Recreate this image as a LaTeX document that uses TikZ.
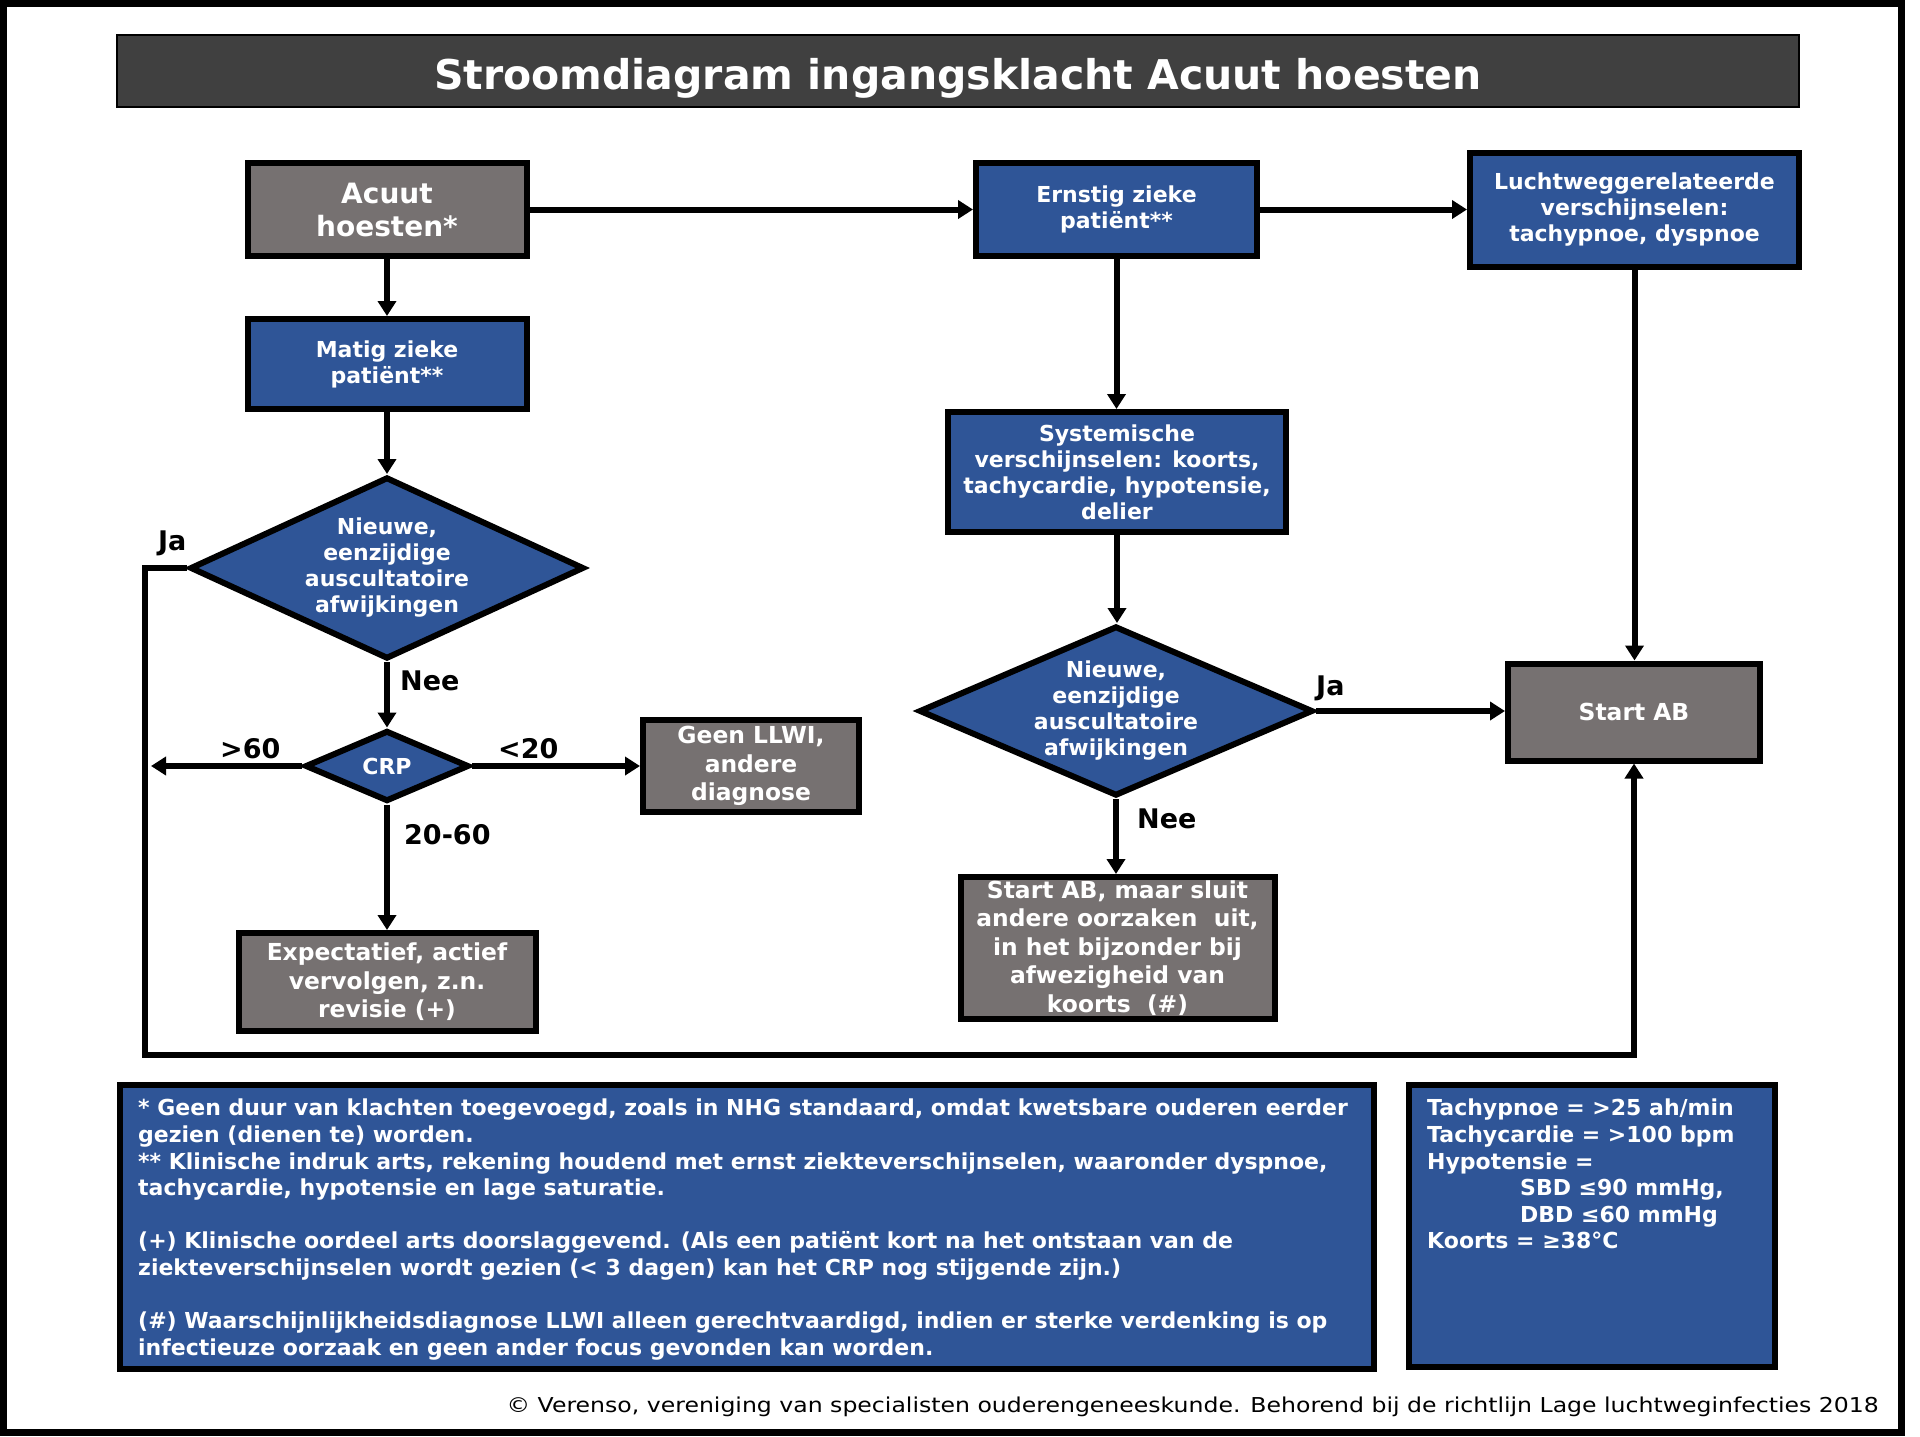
\documentclass[tikz,border=0pt]{standalone}
\usepackage{fontspec}
\setmainfont{DejaVu Sans}
\newfontfamily\creditfont[FakeStretch=1.15]{DejaVu Sans}
\usetikzlibrary{shapes.geometric,arrows.meta}
\definecolor{vblue}{HTML}{2F5597}
\definecolor{vgray}{HTML}{767171}
\definecolor{vdark}{HTML}{404040}
\begin{document}
\begin{tikzpicture}[x=1pt, y=-1pt,
    box/.style={draw=black, line width=6pt, text=white, align=center, inner sep=0pt},
    bluebox/.style={box, fill=vblue, font=\fontsize{22pt}{26pt}\selectfont\bfseries},
    graybox/.style={box, fill=vgray, font=\fontsize{23.4pt}{28.5pt}\selectfont\bfseries},
    decision/.style={diamond, draw=black, line width=6pt, fill=vblue, text=white, align=center,
        inner sep=-12pt, font=\fontsize{22pt}{26pt}\selectfont\bfseries},
    notebox/.style={draw=black, line width=6.5pt, fill=vblue},
    notetext/.style={text=white, align=left, inner sep=0pt, font=\fontsize{22pt}{26.6pt}\selectfont\bfseries},
    arrow/.style={line width=6pt, -{Triangle[length=15pt,width=18pt]}},
    lab/.style={inner sep=0pt, font=\fontsize{27pt}{32pt}\selectfont\bfseries}
  ]
    \useasboundingbox (0,0) rectangle (1920,1436);

    % Frame and title
    \draw[line width=7pt] (3.5,3.5) rectangle (1901.5,1432.5);
    \node[fill=vdark, draw=black, line width=1.5pt, minimum width=1682pt, minimum height=72pt,
        text height=36pt, text depth=0pt,
        text=white, font=\fontsize{41pt}{48pt}\selectfont\bfseries] (title) at (958,71)
        {Stroomdiagram ingangsklacht Acuut hoesten};

    % Left branch
    \node[box, fill=vgray, font=\fontsize{28pt}{33pt}\selectfont\bfseries,
        minimum width=279pt, minimum height=93pt] (acuut) at (387,209.5) {Acuut\\hoesten*};
    \node[bluebox, minimum width=279pt, minimum height=90pt] (matig) at (387,364) {Matig zieke\\patiënt**};
    \node[decision, aspect=2.16, minimum width=394pt, minimum height=182pt] (dia1) at (387,568)
        {Nieuwe,\\eenzijdige\\auscultatoire\\afwijkingen};
    \node[decision, aspect=2.3, minimum width=164pt, minimum height=71pt] (crp) at (387,766) {CRP};
    \node[graybox, minimum width=216pt, minimum height=92pt] (geen) at (751,766) {Geen LLWI,\\andere\\diagnose};
    \node[graybox, minimum width=297pt, minimum height=98pt] (expect) at (387,982)
        {Expectatief, actief\\vervolgen, z.n.\\revisie (+)};

    % Right branch
    \node[bluebox, minimum width=281pt, minimum height=93pt] (ernstig) at (1116.5,209.5) {Ernstig zieke\\patiënt**};
    \node[bluebox, minimum width=329pt, minimum height=114pt] (luchtweg) at (1634.5,210)
        {Luchtweggerelateerde\\verschijnselen:\\tachypnoe, dyspnoe};
    \node[bluebox, minimum width=338pt, minimum height=120pt] (sys) at (1117,472)
        {Systemische\\verschijnselen: koorts,\\tachycardie, hypotensie,\\delier};
    \node[decision, aspect=2.3, minimum width=394pt, minimum height=170pt] (dia2) at (1116,711)
        {Nieuwe,\\eenzijdige\\auscultatoire\\afwijkingen};
    \node[graybox, minimum width=314pt, minimum height=142pt] (maar) at (1117.5,948)
        {Start AB, maar sluit\\andere oorzaken~ uit,\\in het bijzonder bij\\afwezigheid van\\koorts~ (\#)};
    \node[graybox, minimum width=252pt, minimum height=97pt] (startab) at (1634,712) {Start AB};

    % Arrows
    \coordinate (gtend) at (151,766);
    \coordinate (loopcorner) at (145,1055);
    \draw[arrow] (acuut.east) -- (ernstig.west);
    \draw[arrow] (ernstig.east) -- (ernstig.east -| luchtweg.west);
    \draw[arrow] (acuut.south) -- (matig.north);
    \draw[arrow] (matig.south) -- (matig.south |- dia1.north);
    \draw[arrow] (dia1.south) -- (crp.north);
    \draw[arrow] (crp.west) -- (gtend);
    \draw[arrow] (crp.east) -- (crp.east -| geen.west);
    \draw[arrow] (crp.south) -- (crp.south |- expect.north);
    \draw[arrow] (dia1.west) -| (loopcorner) -| (startab.south);
    \draw[arrow] (ernstig.south) -- (ernstig.south |- sys.north);
    \draw[arrow] (sys.south) -- (sys.south |- dia2.north);
    \draw[arrow] (dia2.east) -- (dia2.east -| startab.west);
    \draw[arrow] (dia2.south) -- (dia2.south |- maar.north);
    \draw[arrow] (luchtweg.south) -- (luchtweg.south |- startab.north);

    % Labels
    \node[lab, anchor=base west] (ja1) at (158,550) {Ja};
    \node[lab, anchor=base west] (nee1) at (400,690) {Nee};
    \node[lab, anchor=base west] (gt60) at (220,758) {>60};
    \node[lab, anchor=base west] (lt20) at (498,758) {<20};
    \node[lab, anchor=base west] (mid) at (404,844) {20-60};
    \node[lab, anchor=base west] (ja2) at (1316,695) {Ja};
    \node[lab, anchor=base west] (nee2) at (1137,828) {Nee};

    % Notes
    \node[notebox, minimum width=1254pt, minimum height=284pt] (notes) at (747,1227) {};
    \node[notetext, anchor=north west] (notestext) at (138,1099)
        {* Geen duur van klachten toegevoegd, zoals in NHG standaard, omdat kwetsbare ouderen eerder\\
        gezien (dienen te) worden.\\
        ** Klinische indruk arts, rekening houdend met ernst ziekteverschijnselen, waaronder dyspnoe,\\
        tachycardie, hypotensie en lage saturatie.\\[26.6pt]
        (+) Klinische oordeel arts doorslaggevend. (Als een patiënt kort na het ontstaan van de\\
        ziekteverschijnselen wordt gezien (< 3 dagen) kan het CRP nog stijgende zijn.)\\[26.6pt]
        (\#) Waarschijnlijkheidsdiagnose LLWI alleen gerechtvaardigd, indien er sterke verdenking is op\\
        infectieuze oorzaak en geen ander focus gevonden kan worden.};
    \node[notebox, minimum width=366pt, minimum height=282pt] (legend) at (1592,1226) {};
    \node[notetext, anchor=north west] (legendtext) at (1427,1099)
        {Tachypnoe = >25 ah/min\\
        Tachycardie = >100 bpm\\
        Hypotensie =\\
        \hspace*{93pt}SBD ≤90 mmHg,\\
        \hspace*{93pt}DBD ≤60 mmHg\\
        Koorts = ≥38°C};

    \node[anchor=base east, inner sep=0pt, font=\creditfont\fontsize{20.5pt}{24pt}\selectfont] (credit) at (1879,1412)
        {© Verenso, vereniging van specialisten ouderengeneeskunde. Behorend bij de richtlijn Lage luchtweginfecties 2018};
\end{tikzpicture}
\end{document}
